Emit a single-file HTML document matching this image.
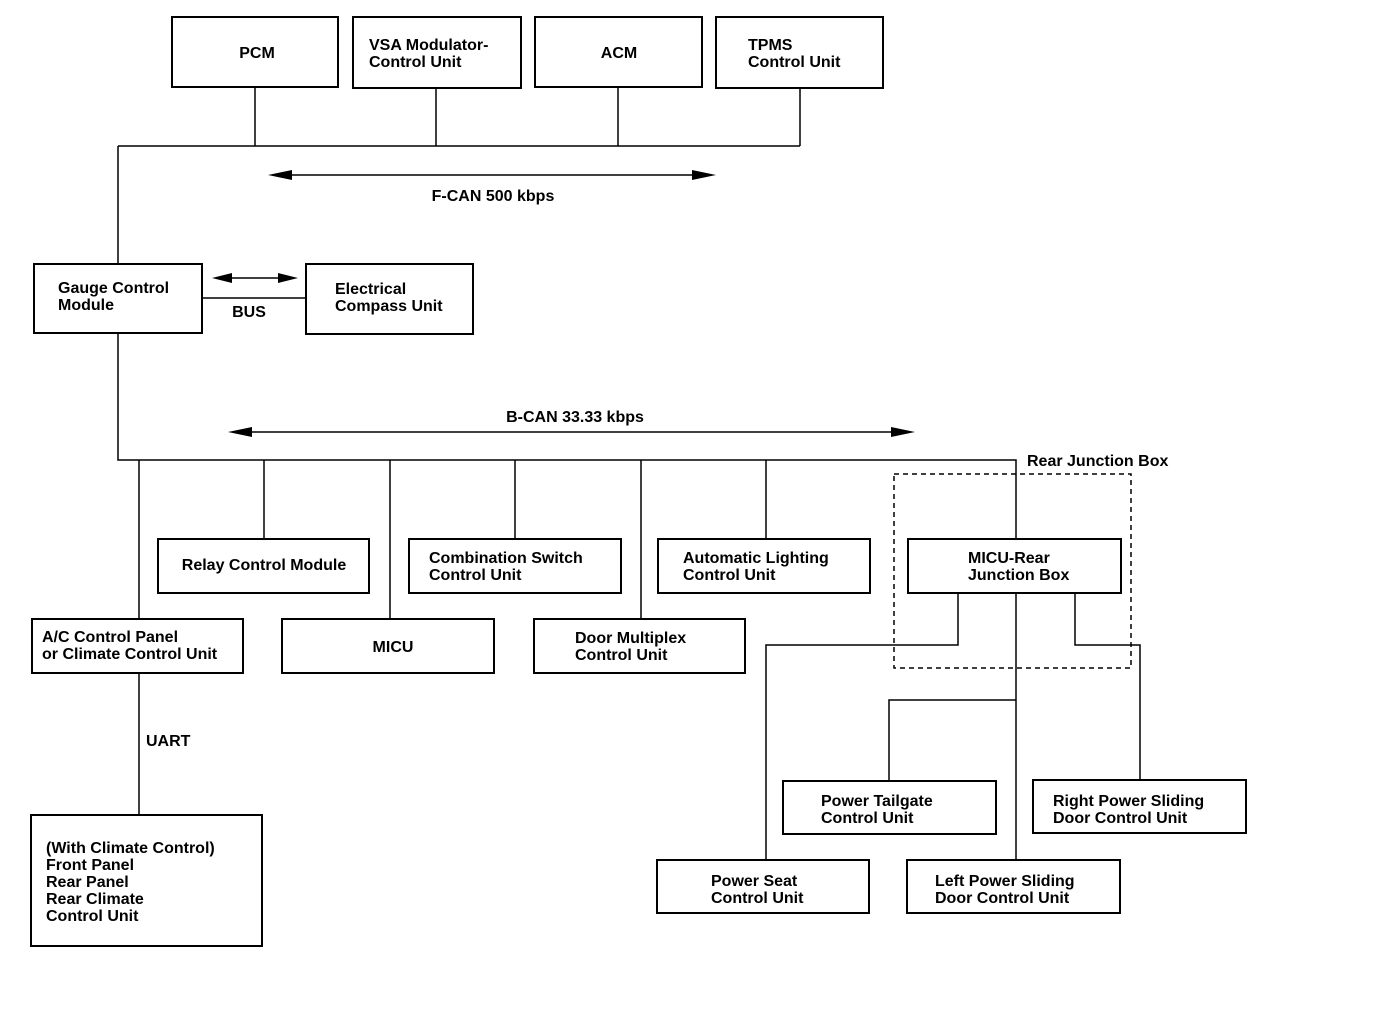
<!DOCTYPE html>
<html><head><style>
html,body{margin:0;padding:0;background:#fff;}
svg{display:block;}
text{font-family:"Liberation Sans",sans-serif;font-weight:bold;font-size:16px;fill:#000;}
</style></head><body>
<svg width="1376" height="1014" viewBox="0 0 1376 1014" xmlns="http://www.w3.org/2000/svg">
<g fill="none" stroke="#000" stroke-width="2">
<rect x="172" y="17" width="166" height="70"/>
<rect x="353" y="17" width="168" height="71"/>
<rect x="535" y="17" width="167" height="70"/>
<rect x="716" y="17" width="167" height="71"/>
<rect x="34" y="264" width="168" height="69"/>
<rect x="306" y="264" width="167" height="70"/>
<rect x="158" y="539" width="211" height="54"/>
<rect x="409" y="539" width="212" height="54"/>
<rect x="658" y="539" width="212" height="54"/>
<rect x="908" y="539" width="213" height="54"/>
<rect x="32" y="619" width="211" height="54"/>
<rect x="282" y="619" width="212" height="54"/>
<rect x="534" y="619" width="211" height="54"/>
<rect x="31" y="815" width="231" height="131"/>
<rect x="783" y="781" width="213" height="53"/>
<rect x="1033" y="780" width="213" height="53"/>
<rect x="657" y="860" width="212" height="53"/>
<rect x="907" y="860" width="213" height="53"/>
</g>
<rect x="894" y="474" width="237" height="194" fill="none" stroke="#000" stroke-width="1.5" stroke-dasharray="5,4"/>
<g fill="none" stroke="#000" stroke-width="1.5">
<path d="M255 87V146M436 88V146M618 87V146M800 88V146M118 146H800M118 146V264"/>
<path d="M202 298H306"/>
<path d="M118 333V460H1016V539"/>
<path d="M139 460V619M264 460V539M390 460V619M515 460V539M641 460V619M766 460V539"/>
<path d="M139 673V815"/>
<path d="M958 593V645H766V860M1016 593V860M1016 700H889V781M1075 593V645H1140V780"/>
<path d="M285 175H700M245 432H898M226 278H284"/>
</g>
<g fill="#000">
<polygon points="268,175 292,170 292,180"/><polygon points="716,175 692,170 692,180"/>
<polygon points="228,432 252,427 252,437"/><polygon points="915,432 891,427 891,437"/>
<polygon points="212,278 232,273 232,283"/><polygon points="298,278 278,273 278,283"/>
</g>
<text x="257" y="58" text-anchor="middle">PCM</text>
<text x="369" y="50">VSA Modulator-</text><text x="369" y="67">Control Unit</text>
<text x="619" y="58" text-anchor="middle">ACM</text>
<text x="748" y="50">TPMS</text><text x="748" y="67">Control Unit</text>
<text x="493" y="201" text-anchor="middle">F-CAN 500 kbps</text>
<text x="58" y="293">Gauge Control</text><text x="58" y="310">Module</text>
<text x="335" y="294">Electrical</text><text x="335" y="311">Compass Unit</text>
<text x="249" y="317" text-anchor="middle">BUS</text>
<text x="575" y="422" text-anchor="middle">B-CAN 33.33 kbps</text>
<text x="1027" y="466">Rear Junction Box</text>
<text x="264" y="570" text-anchor="middle">Relay Control Module</text>
<text x="429" y="563">Combination Switch</text><text x="429" y="580">Control Unit</text>
<text x="683" y="563">Automatic Lighting</text><text x="683" y="580">Control Unit</text>
<text x="968" y="563">MICU-Rear</text><text x="968" y="580">Junction Box</text>
<text x="42" y="642">A/C Control Panel</text><text x="42" y="659">or Climate Control Unit</text>
<text x="393" y="652" text-anchor="middle">MICU</text>
<text x="575" y="643">Door Multiplex</text><text x="575" y="660">Control Unit</text>
<text x="146" y="746">UART</text>
<text x="46" y="853">(With Climate Control)</text><text x="46" y="870">Front Panel</text><text x="46" y="887">Rear Panel</text><text x="46" y="904">Rear Climate</text><text x="46" y="921">Control Unit</text>
<text x="821" y="806">Power Tailgate</text><text x="821" y="823">Control Unit</text>
<text x="1053" y="806">Right Power Sliding</text><text x="1053" y="823">Door Control Unit</text>
<text x="711" y="886">Power Seat</text><text x="711" y="903">Control Unit</text>
<text x="935" y="886">Left Power Sliding</text><text x="935" y="903">Door Control Unit</text>
</svg>
</body></html>
